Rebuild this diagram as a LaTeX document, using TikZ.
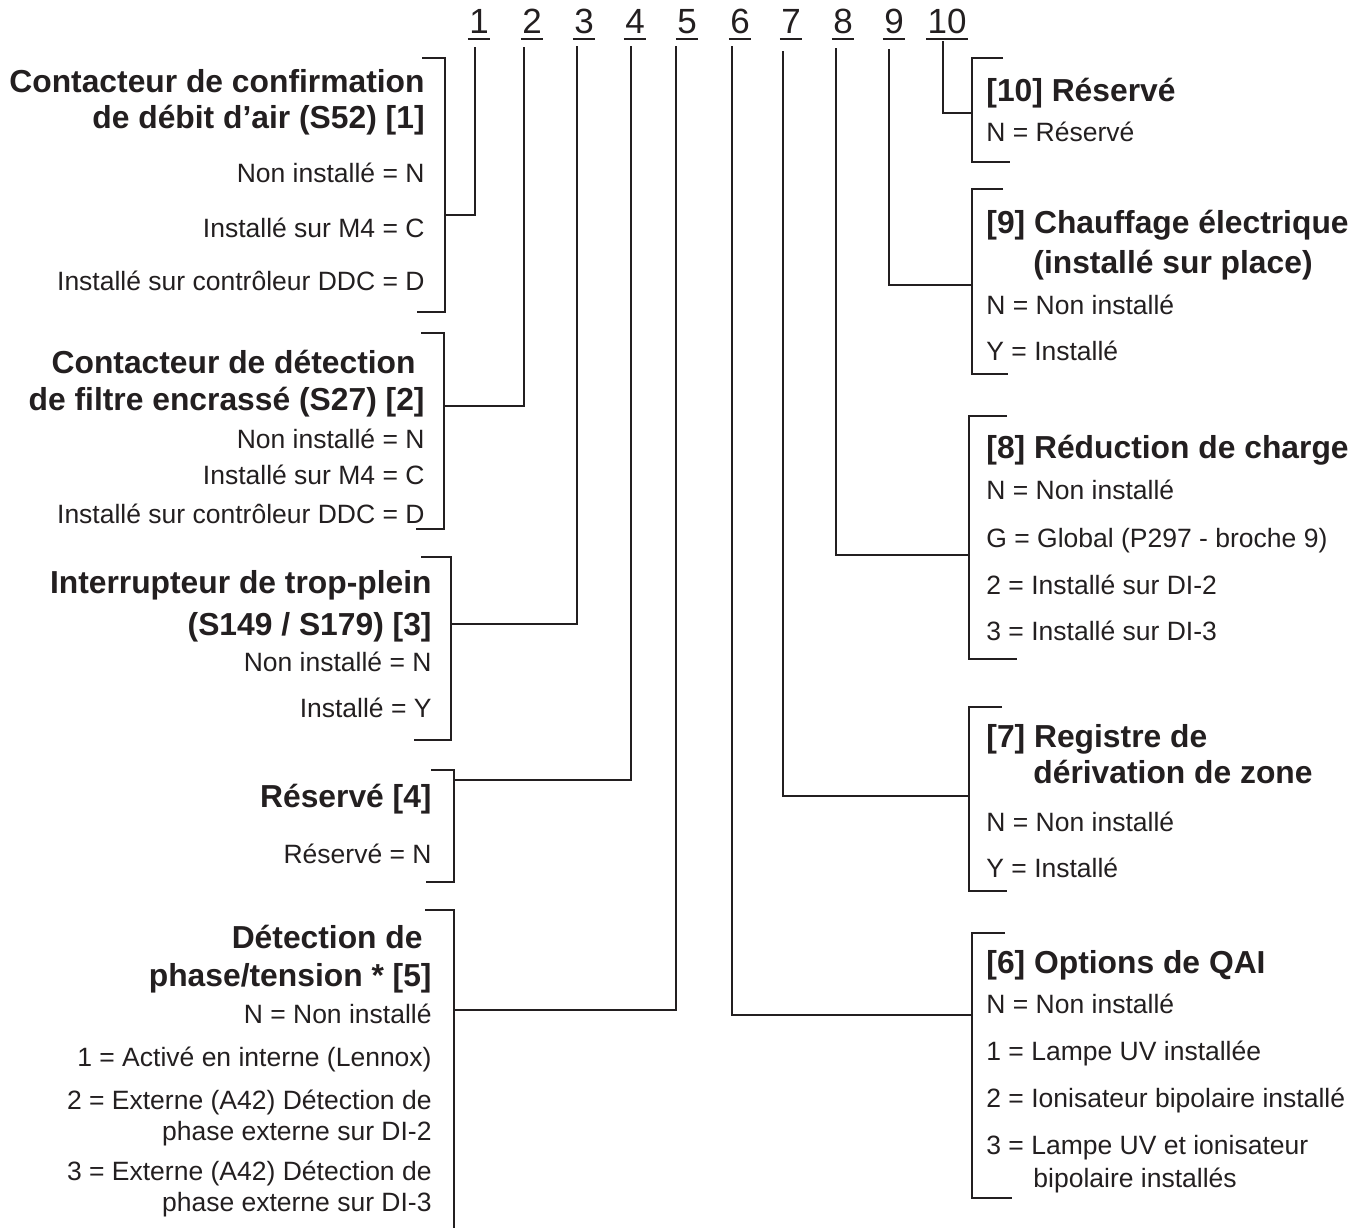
\documentclass[tikz,border=0pt]{standalone}
\usepackage{fontspec}
\setmainfont{Liberation Sans}
\definecolor{ink}{HTML}{231F20}
\begin{document}
\begin{tikzpicture}[x=0.5pt,y=-0.5pt,
  ln/.style={draw=ink,line width=1.4pt},
  ul/.style={draw=ink,line width=1.1pt},
  lh/.style={anchor=base east,inner sep=0pt,text=ink,font=\fontsize{15.9}{18}\selectfont\bfseries},
  lt/.style={anchor=base east,inner sep=0pt,text=ink,font=\fontsize{13.25}{16}\selectfont},
  rh/.style={lh,anchor=base west},
  rt/.style={lt,anchor=base west},
  dig/.style={anchor=base,inner sep=0pt,text=ink,font=\fontsize{17.5}{20}\selectfont}]
\useasboundingbox (0,0) rectangle (1364,1228);

% ---- top digits ----
\foreach \xx/\n in {479/1,532/2,584/3,635/4,687/5,740/6,791/7,843/8,894/9,947/10}{
  \node[dig] (d\n) at (\xx,33) {\n};
  \draw[ul] ([xshift=-0.5pt,yshift=-3pt]d\n.base west) -- ([xshift=0.5pt,yshift=-3pt]d\n.base east);
}

% ---- line tops ----
\coordinate (t1) at (475,47);
\coordinate (t2) at (524,47);
\coordinate (t3) at (577,46);
\coordinate (t4) at (631,46);
\coordinate (t5) at (676,46);
\coordinate (t6) at (732,46);
\coordinate (t7) at (783,51);
\coordinate (t8) at (836,48);
\coordinate (t9) at (889,49);
\coordinate (t10) at (943,41);

% ---- junctions on brackets ----
\coordinate (j1) at (445,215);
\coordinate (j2) at (444,406);
\coordinate (j3) at (451,624);
\coordinate (j4) at (454,780);
\coordinate (j5) at (454,1010);
\coordinate (j6) at (972,1015);
\coordinate (j7) at (969,796);
\coordinate (j8) at (969,555);
\coordinate (j9) at (972,285);
\coordinate (j10) at (972,113);

\foreach \i in {1,...,10}{ \draw[ln] (j\i) -| (t\i); }

% ---- brackets (left) ----
\draw[ln] (422,58) -- (445,58) -- (445,312) -- (417,312);
\draw[ln] (421,333) -- (444,333) -- (444,529) -- (416,529);
\draw[ln] (421,557) -- (451,557) -- (451,740) -- (414,740);
\draw[ln] (431,770) -- (454,770) -- (454,882) -- (426,882);
\draw[ln] (425,910) -- (454,910) -- (454,1228);
% ---- brackets (right) ----
\draw[ln] (1003,58) -- (972,58) -- (972,162) -- (1010,162);
\draw[ln] (1003,189) -- (972,189) -- (972,374) -- (1008,374);
\draw[ln] (1007,416) -- (969,416) -- (969,659) -- (1017,659);
\draw[ln] (1002,707) -- (969,707) -- (969,891) -- (1007,891);
\draw[ln] (1005,933) -- (972,933) -- (972,1198) -- (1012,1198);

% ---- box 1 ----
\node[lh] (a1) at (425,92) {Contacteur de confirmation};
\node[lh] (a2) at (425,128) {de débit d’air (S52) [1]};
\node[lt] (a3) at (425,182) {Non installé = N};
\node[lt] (a4) at (425,237) {Installé sur M4 = C};
\node[lt] (a5) at (425,290) {Installé sur contrôleur DDC = D};

% ---- box 2 ----
\node[lh] (b1) at (416,373) {Contacteur de détection};
\node[lh] (b2) at (425,410) {de filtre encrassé (S27) [2]};
\node[lt] (b3) at (425,448) {Non installé = N};
\node[lt] (b4) at (425,484) {Installé sur M4 = C};
\node[lt] (b5) at (425,523) {Installé sur contrôleur DDC = D};

% ---- box 3 ----
\node[lh] (c1) at (432,593) {Interrupteur de trop-plein};
\node[lh] (c2) at (432,635) {(S149 / S179) [3]};
\node[lt] (c3) at (432,671) {Non installé = N};
\node[lt] (c4) at (432,717) {Installé = Y};

% ---- box 4 ----
\node[lh] (e1) at (432,807) {Réservé [4]};
\node[lt] (e2) at (432,863) {Réservé = N};

% ---- box 5 ----
\node[lh] (f1) at (423,948) {Détection de};
\node[lh] (f2) at (432,986) {phase/tension * [5]};
\node[lt] (f3) at (432,1023) {N = Non installé};
\node[lt] (f4) at (432,1066) {1 = Activé en interne (Lennox)};
\node[lt] (f5) at (432,1109) {2 = Externe (A42) Détection de};
\node[lt] (f6) at (432,1140) {phase externe sur DI-2};
\node[lt] (f7) at (432,1180) {3 = Externe (A42) Détection de};
\node[lt] (f8) at (432,1211) {phase externe sur DI-3};

% ---- box 10 ----
\node[rh] (g1) at (986,101) {[10] Réservé};
\node[rt] (g2) at (986,141) {N = Réservé};

% ---- box 9 ----
\node[rh] (h1) at (986,233) {[9] Chauffage électrique};
\node[rh] (h2) at (1033,273) {(installé sur place)};
\node[rt] (h3) at (986,314) {N = Non installé};
\node[rt] (h4) at (986,360) {Y = Installé};

% ---- box 8 ----
\node[rh] (k1) at (986,458) {[8] Réduction de charge};
\node[rt] (k2) at (986,499) {N = Non installé};
\node[rt] (k3) at (986,547) {G = Global (P297 - broche 9)};
\node[rt] (k4) at (986,594) {2 = Installé sur DI-2};
\node[rt] (k5) at (986,640) {3 = Installé sur DI-3};

% ---- box 7 ----
\node[rh] (m1) at (986,747) {[7] Registre de};
\node[rh] (m2) at (1033,783) {dérivation de zone};
\node[rt] (m3) at (986,831) {N = Non installé};
\node[rt] (m4) at (986,877) {Y = Installé};

% ---- box 6 ----
\node[rh] (p1) at (986,973) {[6] Options de QAI};
\node[rt] (p2) at (986,1013) {N = Non installé};
\node[rt] (p3) at (986,1060) {1 = Lampe UV installée};
\node[rt] (p4) at (986,1107) {2 = Ionisateur bipolaire installé};
\node[rt] (p5) at (986,1154) {3 = Lampe UV et ionisateur};
\node[rt] (p6) at (1033,1187) {bipolaire installés};
\end{tikzpicture}
\end{document}
